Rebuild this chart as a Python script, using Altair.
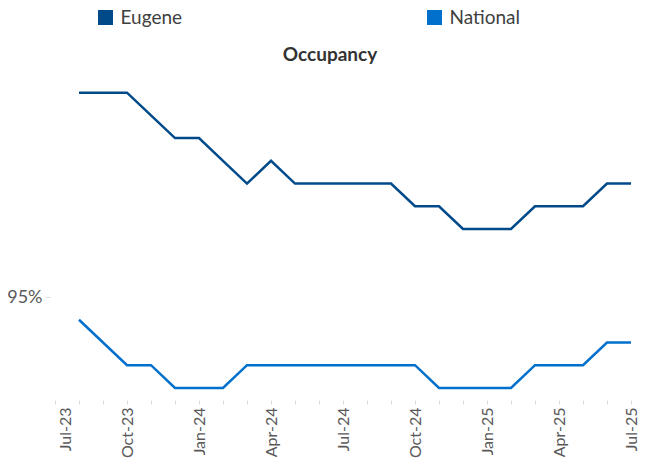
import altair as alt
import pandas as pd

# Month index 0 = Jul-23 ... 24 = Jul-25
months = list(range(1, 25))
eugene = [95.9, 95.9, 95.9, 95.8, 95.7, 95.7, 95.6, 95.5, 95.6, 95.5, 95.5, 95.5,
          95.5, 95.5, 95.4, 95.4, 95.3, 95.3, 95.3, 95.4, 95.4, 95.4, 95.5, 95.5]
national = [94.9, 94.8, 94.7, 94.7, 94.6, 94.6, 94.6, 94.7, 94.7, 94.7, 94.7, 94.7,
            94.7, 94.7, 94.7, 94.6, 94.6, 94.6, 94.6, 94.7, 94.7, 94.7, 94.8, 94.8]
tick_labels = ["Jul-23", "Oct-23", "Jan-24", "Apr-24", "Jul-24", "Oct-24",
               "Jan-25", "Apr-25", "Jul-25"]
series = ["Eugene", "National"]
colors = ["#004A8A", "#0070CC"]

df = pd.concat([
    pd.DataFrame({"m": months, "v": eugene, "s": series[0]}),
    pd.DataFrame({"m": months, "v": national, "s": series[1]}),
])

FONT = "Lato"
label_arr = "[" + ",".join("'" + t + "'" for t in tick_labels) + "]"

chart = alt.Chart(df).mark_line(strokeWidth=2.5).encode(
    x=alt.X("m:Q",
            scale=alt.Scale(domain=[0, 24], nice=False, zero=False),
            axis=alt.Axis(
                title=None, values=list(range(0, 25)), grid=False, domain=False,
                labelExpr=f"datum.value % 3 == 0 ? {label_arr}[datum.value / 3] : ''",
                labelAngle=270, labelFont=FONT, labelFontSize=16, labelColor="#595959",
                tickColor="#D9D9D9", tickSize=4, labelPadding=3,
                labelOffset={"condition": {"test": "datum.value == 0", "value": 10}, "value": 0},
            )),
    y=alt.Y("v:Q",
            scale=alt.Scale(domain=[94.5467, 96.0], nice=False, zero=False),
            axis=alt.Axis(
                title=None, values=[95], grid=False, domain=False,
                labelExpr="format(datum.value, '.0f') + '%'",
                labelFont=FONT, labelFontSize=18, labelColor="#595959",
                tickColor="#D9D9D9", tickSize=4, offset=5, labelPadding=4,
            )),
    color=alt.Color("s:N",
                    scale=alt.Scale(domain=series, range=colors),
                    legend=alt.Legend(
                        title=None, orient="none", legendX=35.5, legendY=-67.5,
                        direction="horizontal", symbolType="stroke", symbolSize=225,
                        symbolStrokeWidth=15,
                        labelFont=FONT, labelFontSize=19, labelColor="#404040",
                        labelOffset=0, columnPadding=214, padding=0,
                    )),
).properties(
    width=576, height=330,
    title=alt.TitleParams("Occupancy", font=FONT, fontSize=19, fontWeight="bold",
                          color="#333333", anchor="middle", frame="group", dx=-13,
                          offset=0, baseline="alphabetic", dy=77.5),
    autosize=alt.AutoSizeParams(type="none"),
    padding={"left": 47, "top": 62, "right": 8, "bottom": 58},
).configure_view(stroke=None)

chart.save("out.html", embed_options={"renderer": "svg", "actions": False})
